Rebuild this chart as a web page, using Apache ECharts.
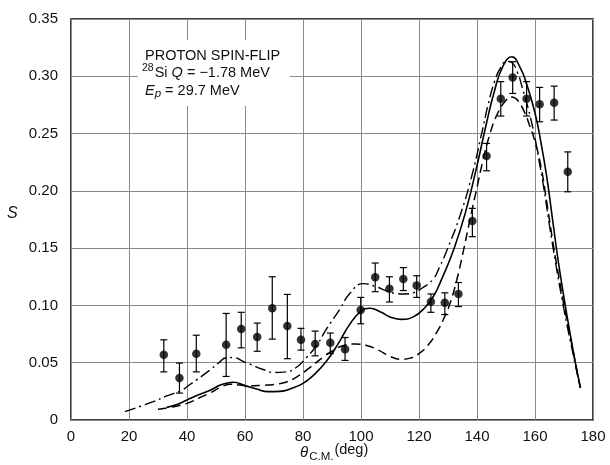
<!DOCTYPE html>
<html>
<head>
<meta charset="utf-8">
<script src="https://cdn.jsdelivr.net/npm/echarts@6/dist/echarts.min.js"></script>
<style>
  html, body { margin: 0; padding: 0; background: #fff; }
  #chart { width: 610px; height: 465px; }
</style>
</head>
<body>
<div id="chart"></div>
<script>
// 实验点 (theta, S) 及误差棒上下限
var ptX  = [32.0, 37.4, 43.2, 53.5, 58.7, 64.2, 69.4, 74.6, 79.3, 84.2, 89.4, 94.5, 99.9, 104.9, 109.8, 114.6, 119.2, 124.1, 128.9, 133.6, 138.4, 143.3, 148.2, 152.3, 157.1, 161.6, 166.6, 171.3];
var ptY  = [0.057, 0.0366, 0.0578, 0.0657, 0.0794, 0.0724, 0.0975, 0.082, 0.070, 0.0663, 0.0675, 0.0617, 0.096, 0.1245, 0.1146, 0.123, 0.1175, 0.1032, 0.1024, 0.110, 0.1737, 0.2304, 0.2804, 0.299, 0.2804, 0.2755, 0.277, 0.2167];
var errHi = [0.070, 0.0497, 0.074, 0.093, 0.094, 0.0846, 0.125, 0.1096, 0.080, 0.0776, 0.0759, 0.072, 0.107, 0.137, 0.125, 0.133, 0.1259, 0.110, 0.111, 0.120, 0.1847, 0.2414, 0.2953, 0.3127, 0.2953, 0.2903, 0.2914, 0.234];
var errLo = [0.042, 0.0235, 0.042, 0.038, 0.063, 0.060, 0.0706, 0.0535, 0.061, 0.056, 0.058, 0.052, 0.084, 0.112, 0.103, 0.113, 0.107, 0.094, 0.092, 0.099, 0.160, 0.2175, 0.2653, 0.285, 0.2653, 0.2603, 0.2618, 0.1992];

// 理论曲线: 实线
var solidCurve = [
    [33, 0.011], [36, 0.013], [40, 0.0175], [44, 0.022], [48, 0.026], [52, 0.031], [56, 0.033],
    [60, 0.030], [64, 0.027], [68, 0.0248], [72, 0.025], [76, 0.0275], [80, 0.032], [84, 0.040],
    [88, 0.051], [92, 0.066], [96, 0.083], [100, 0.095], [103, 0.0975], [107, 0.094], [110, 0.090],
    [114, 0.0878], [118, 0.090], [122, 0.098], [125, 0.108], [128, 0.124], [132, 0.149], [136, 0.181],
    [140, 0.222], [143, 0.256], [146, 0.287], [149, 0.309], [152, 0.317], [155, 0.307], [157, 0.294],
    [160, 0.268], [162, 0.243], [164, 0.213], [166, 0.176], [168, 0.139], [170.3, 0.102], [172, 0.077],
    [174, 0.049], [175.7, 0.028]
];

// 虚线
var dashCurve = [
    [30, 0.0093], [34, 0.011], [38, 0.013], [41, 0.0155], [44, 0.019], [48, 0.0237], [52, 0.029],
    [55, 0.0312], [58, 0.0305], [62, 0.0298], [66, 0.0303], [70, 0.031], [74, 0.033], [78, 0.0378],
    [82, 0.045], [87, 0.055], [90, 0.060], [94, 0.065], [98, 0.0663], [102, 0.065], [106, 0.061],
    [110, 0.0555], [114, 0.053], [117, 0.054], [120, 0.058], [123, 0.065], [126, 0.076], [129, 0.091],
    [131, 0.104], [133, 0.122], [135, 0.144], [138, 0.180], [140, 0.203], [142, 0.226], [144.5, 0.250],
    [147, 0.267], [150, 0.279], [152, 0.282], [154, 0.279], [156.5, 0.268], [158, 0.258], [160, 0.243],
    [162, 0.222], [164, 0.191], [166, 0.158], [168, 0.128], [170, 0.100], [172, 0.075], [174, 0.049],
    [175.6, 0.028]
];

// 点划线
var dotDashCurve = [
    [18.6, 0.0073], [24, 0.012], [28.4, 0.016], [33, 0.021], [38.2, 0.026], [41, 0.031], [43.3, 0.035],
    [47.9, 0.0436], [51, 0.050], [53.5, 0.0543], [56, 0.0545], [59.5, 0.051], [62, 0.0485], [66, 0.0443],
    [70, 0.0415], [74, 0.042], [78, 0.0465], [81, 0.054], [84.7, 0.065], [88, 0.079], [92.8, 0.097],
    [96, 0.110], [100.8, 0.119], [105, 0.1165], [109, 0.1125], [112, 0.1105], [115, 0.110], [118, 0.111],
    [121, 0.115], [124.9, 0.123], [127, 0.133], [129.6, 0.148], [134.1, 0.178], [138.2, 0.213],
    [141.6, 0.250], [143.9, 0.276], [146, 0.295], [148, 0.307], [150.3, 0.313], [152, 0.312],
    [154, 0.303], [155.4, 0.292], [158.9, 0.259], [161.7, 0.222], [163, 0.203], [165.8, 0.157],
    [169.8, 0.099], [173.8, 0.0495], [175.5, 0.029]
];

var xTicks = [0, 20, 40, 60, 80, 100, 120, 140, 160, 180];

var chart = echarts.init(document.getElementById('chart'));

var points = [];
var bars = [];
for (var i = 0; i < ptX.length; i++) {
    points.push([ptX[i], ptY[i]]);
    bars.push([ptX[i], errLo[i], errHi[i]]);
}

var font = 'Liberation Sans';

var option = {
    animation: false,
    backgroundColor: '#fff',
    grid: {
        left: 71, right: 17, top: 19, bottom: 45,
        show: true, borderColor: '#000', borderWidth: 1.5
    },
    xAxis: {
        type: 'value', min: 0, max: 180, interval: 20,
        axisLine: { show: false },
        axisTick: { show: false },
        axisLabel: { color: '#111', fontSize: 15, fontFamily: font, margin: 9,
            formatter: function (v) { return xTicks.indexOf(v) >= 0 ? String(v) : ''; } },
        splitLine: { show: true, lineStyle: { color: '#8a8a8a', width: 1 } }
    },
    yAxis: {
        type: 'value', min: 0, max: 0.35, interval: 0.05,
        axisLine: { show: false },
        axisTick: { show: false },
        axisLabel: { color: '#111', fontSize: 15, fontFamily: font, margin: 13,
            formatter: function (v) { return v === 0 ? '0' : v.toFixed(2); } },
        splitLine: { show: true, lineStyle: { color: '#8a8a8a', width: 1 } }
    },
    graphic: [
        { type: 'rect', z: 10, shape: { x: 138, y: 40, width: 152, height: 66 }, style: { fill: '#fff' } },
        { type: 'text', z: 11, left: 145, top: 48,
          style: { text: 'PROTON SPIN-FLIP', fill: '#111', font: '14.5px Liberation Sans' } },
        { type: 'text', z: 11, left: 142, top: 63,
          style: {
              text: '{sup|28}{n|Si }{i|Q}{n| = −1.78 MeV}',
              rich: {
                  sup: { fontSize: 10.5, fontFamily: font, fill: '#111', verticalAlign: 'top', padding: [0, 1, 8, 0] },
                  n: { fontSize: 14.5, fontFamily: font, fill: '#111' },
                  i: { fontSize: 14.5, fontFamily: font, fontStyle: 'italic', fill: '#111' }
              }
          } },
        { type: 'text', z: 11, left: 145, top: 83,
          style: {
              text: '{i|E}{sub|p}{n| = 29.7 MeV}',
              rich: {
                  i: { fontSize: 14.5, fontFamily: font, fontStyle: 'italic', fill: '#111' },
                  sub: { fontSize: 11.5, fontFamily: font, fontStyle: 'italic', fill: '#111', padding: [6, 0, 0, 0] },
                  n: { fontSize: 14.5, fontFamily: font, fill: '#111' }
              }
          } },
        { type: 'text', left: 7, top: 206,
          style: { text: 'S', fill: '#111', font: 'italic 16px Liberation Sans' } },
        { type: 'text', left: 300, top: 442,
          style: {
              text: '{i|θ}{sub|C.M.}{n|(deg)}',
              rich: {
                  i: { fontSize: 15, fontFamily: font, fontStyle: 'italic', fill: '#111', padding: [4, 0, 0, 0] },
                  sub: { fontSize: 11.5, fontFamily: font, fill: '#111', padding: [12, 1, 0, 1] },
                  n: { fontSize: 14.5, fontFamily: font, fill: '#111', padding: [0, 0, 2, 0] }
              }
          } }
    ],
    series: [
        {
            name: 'solid', type: 'line', data: solidCurve, smooth: 0.5, showSymbol: false,
            lineStyle: { color: '#000', width: 1.6 }, z: 3
        },
        {
            name: 'dashed', type: 'line', data: dashCurve, smooth: 0.5, showSymbol: false,
            lineStyle: { color: '#000', width: 1.5, type: [9, 5] }, z: 3
        },
        {
            name: 'dotdash', type: 'line', data: dotDashCurve, smooth: 0.5, showSymbol: false,
            lineStyle: { color: '#000', width: 1.4, type: [11, 4, 2, 4] }, z: 3
        },
        {
            name: 'err', type: 'custom', data: bars, z: 4,
            renderItem: function (params, api) {
                var lo = api.coord([api.value(0), api.value(1)]);
                var hi = api.coord([api.value(0), api.value(2)]);
                var w = 3.5;
                var st = { stroke: '#000', lineWidth: 1.2 };
                return {
                    type: 'group',
                    children: [
                        { type: 'line', shape: { x1: lo[0], y1: lo[1], x2: hi[0], y2: hi[1] }, style: st },
                        { type: 'line', shape: { x1: lo[0] - w, y1: lo[1], x2: lo[0] + w, y2: lo[1] }, style: st },
                        { type: 'line', shape: { x1: hi[0] - w, y1: hi[1], x2: hi[0] + w, y2: hi[1] }, style: st }
                    ]
                };
            }
        },
        {
            name: 'data', type: 'scatter', data: points, symbol: 'circle', symbolSize: 8.5, z: 5,
            itemStyle: { color: '#000' }
        }
    ]
};

chart.setOption(option);
</script>
</body>
</html>
